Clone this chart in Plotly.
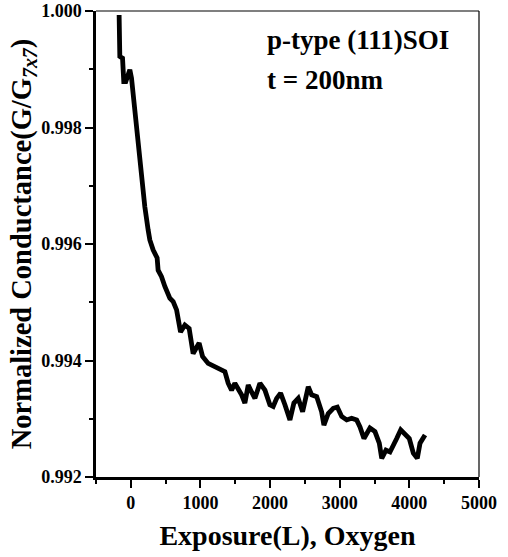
import plotly.graph_objects as go

# Exposure (Langmuir) and normalized conductance G/G7x7
exposure = [-168, -158, -119, -101, -72, -14, 10, 72, 105, 139, 201, 249, 273, 320, 378, 392,
            441, 489, 560, 608, 657, 714, 776, 838, 895, 981, 1030, 1111, 1207, 1279, 1351,
            1398, 1447, 1494, 1542, 1591, 1638, 1686, 1734, 1782, 1854, 1926, 1997, 2045,
            2094, 2151, 2213, 2285, 2342, 2404, 2467, 2548, 2597, 2669, 2740, 2773, 2835,
            2907, 2965, 3028, 3100, 3171, 3243, 3291, 3348, 3434, 3506, 3568, 3603, 3664,
            3722, 3779, 3818, 3876, 3937, 3999, 4057, 4114, 4153, 4225]
conductance = [0.99993, 0.99922, 0.99919, 0.99879, 0.99879, 0.99899, 0.99885, 0.99813, 0.99773,
               0.99722, 0.99664, 0.99624, 0.99607, 0.99590, 0.99576, 0.99555, 0.99544, 0.99527,
               0.99507, 0.99501, 0.99487, 0.99449, 0.99461, 0.99455, 0.99412, 0.99430, 0.99407,
               0.99395, 0.99389, 0.99385, 0.99381, 0.99361, 0.99349, 0.99361, 0.99352, 0.99341,
               0.99327, 0.99358, 0.99346, 0.99335, 0.99361, 0.99349, 0.99324, 0.99321, 0.99335,
               0.99344, 0.99324, 0.99298, 0.99327, 0.99335, 0.99312, 0.99355, 0.99341, 0.99338,
               0.99312, 0.99289, 0.99309, 0.99318, 0.99320, 0.99304, 0.99298, 0.99301, 0.99298,
               0.99286, 0.99266, 0.99284, 0.99278, 0.99258, 0.99232, 0.99246, 0.99243, 0.99255,
               0.99266, 0.99281, 0.99272, 0.99266, 0.99241, 0.99232, 0.99258, 0.99272]

x_ticks = [0, 1000, 2000, 3000, 4000, 5000]
y_ticks = [0.992, 0.994, 0.996, 0.998, 1.000]

FONT = "Liberation Serif, Times New Roman, serif"

fig = go.Figure()
fig.add_trace(go.Scatter(x=exposure, y=conductance, mode="lines",
                         line=dict(color="black", width=4.8), showlegend=False))

fig.update_layout(
    width=508, height=557,
    margin=dict(l=96, r=29, t=11, b=80),
    paper_bgcolor="white", plot_bgcolor="white",
    font=dict(family=FONT, color="black", weight="bold"),
    xaxis=dict(range=[-500, 5000], tickvals=x_ticks, ticktext=[str(v) for v in x_ticks],
               showgrid=False, zeroline=False, showline=True, linecolor="black", linewidth=2.5,
               ticks="outside", ticklen=8, tickwidth=2, tickcolor="black",
               minor=dict(dtick=500, tick0=0, ticks="outside", ticklen=4, tickwidth=2, tickcolor="black", showgrid=False),
               tickfont=dict(family=FONT, size=18, weight="bold"), ticklabeloverflow="allow",
               title=dict(text="Exposure(L), Oxygen", font=dict(family=FONT, size=28, weight="bold"), standoff=14),
               automargin=False),
    yaxis=dict(range=[0.992, 1.000], tickvals=y_ticks, ticktext=["%.3f" % v for v in y_ticks],
               showgrid=False, zeroline=False, showline=True, linecolor="black", linewidth=2.5,
               ticks="outside", ticklen=8, tickwidth=2, tickcolor="black",
               minor=dict(dtick=0.001, tick0=0.992, ticks="outside", ticklen=4, tickwidth=2, tickcolor="black", showgrid=False),
               tickfont=dict(family=FONT, size=18, weight="bold"), ticklabeloverflow="allow",
               title=dict(text="Normalized Conductance(G/G<sub><i>7x7</i></sub>)",
                          font=dict(family=FONT, size=28.5, weight="bold"), standoff=0),
               automargin=False),
    shapes=[
        dict(type="line", xref="paper", yref="paper", x0=0, x1=1, y0=1, y1=1,
             line=dict(color="black", width=1.2)),
        dict(type="line", xref="paper", yref="paper", x0=1, x1=1, y0=0, y1=1,
             line=dict(color="black", width=1.2)),
    ],
    annotations=[
        dict(text="p-type (111)SOI", xref="paper", yref="paper", x=0.44, y=0.938,
             xanchor="left", yanchor="middle", showarrow=False,
             font=dict(family=FONT, size=27, weight="bold")),
        dict(text="t = 200nm", xref="paper", yref="paper", x=0.44, y=0.852,
             xanchor="left", yanchor="middle", showarrow=False,
             font=dict(family=FONT, size=27, weight="bold")),
    ],
)

fig.write_html("out.html", config={"displayModeBar": False},
               post_script="document.body.style.margin='0';")
